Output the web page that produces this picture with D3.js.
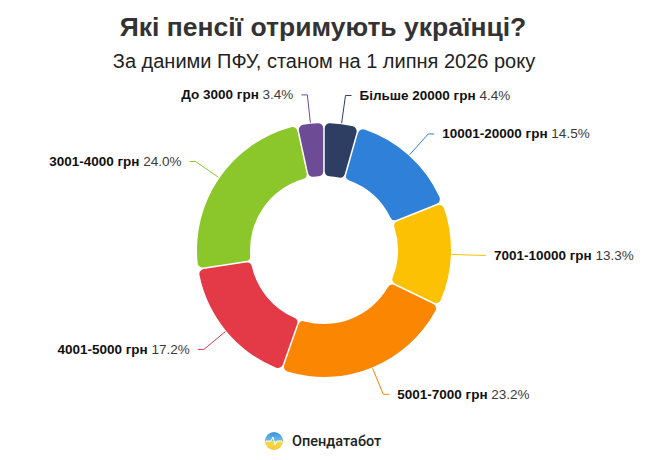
<!DOCTYPE html>
<html>
<head>
<meta charset="utf-8">
<script src="https://cdn.jsdelivr.net/npm/d3@7"></script>
<style>
  body { margin: 0; background: #fff; }
  svg { display: block; font-family: "Liberation Sans", Arial, sans-serif; }
</style>
</head>
<body>
<svg id="chart" width="671" height="460"></svg>
<script>
// data, clockwise from the top
const categories = ["Більше 20000 грн", "10001-20000 грн", "7001-10000 грн", "5001-7000 грн", "4001-5000 грн", "3001-4000 грн", "До 3000 грн"];
const shares = [4.4, 14.5, 13.3, 23.2, 17.2, 24.0, 3.4];
const colors = ["#2d3e62", "#2e80d9", "#fcc102", "#fb8602", "#e43a48", "#8bc62a", "#6d4c95"];

const width = 671, height = 460;
const cx = 324, cy = 250;
const outerR = 127, innerR = 74;

const svg = d3.select("#chart");

svg.append("text")
  .attr("x", 323).attr("y", 36)
  .attr("text-anchor", "middle")
  .style("font-size", "26.5px")
  .style("font-weight", "bold")
  .attr("fill", "#333")
  .text("Які пенсії отримують українці?");

svg.append("text")
  .attr("x", 324).attr("y", 68)
  .attr("text-anchor", "middle")
  .style("font-size", "20px")
  .attr("fill", "#222")
  .text("За даними ПФУ, станом на 1 липня 2026 року");

const pie = d3.pie().sort(null).value(d => d)(shares);

const arc = d3.arc()
  .innerRadius(innerR)
  .outerRadius(outerR)
  .cornerRadius(5)
  .padAngle(0.012)
  .padRadius(outerR);

const g = svg.append("g").attr("transform", `translate(${cx},${cy})`);

g.selectAll("path.slice")
  .data(pie)
  .join("path")
  .attr("class", "slice")
  .attr("d", arc)
  .attr("fill", (d, i) => colors[i]);

// labels with connectors
const labelDist = 29;
pie.forEach((d, i) => {
  const a = (d.startAngle + d.endAngle) / 2;
  const right = Math.sin(a) >= 0;
  const dir = right ? 1 : -1;
  const x0 = Math.sin(a) * (outerR + 1), y0 = -Math.cos(a) * (outerR + 1);
  const x1 = Math.sin(a) * (outerR + labelDist), y1 = -Math.cos(a) * (outerR + labelDist);
  const x2 = x1 + dir * 6;

  g.append("path")
    .attr("d", `M${x0},${y0}L${x1},${y1}L${x2},${y1}`)
    .attr("fill", "none")
    .attr("stroke", colors[i])
    .attr("stroke-width", 1);

  const t = g.append("text")
    .attr("x", x2 + dir * 8)
    .attr("y", y1 + 4.5)
    .attr("text-anchor", right ? "start" : "end")
    .style("font-size", "13.5px")
    .attr("fill", "#111");
  t.append("tspan").style("font-weight", "bold").text(categories[i] + " ");
  t.append("tspan").attr("fill", "#3a3a3a").text(d3.format(".1f")(shares[i]) + "%");
});

// brand
const logo = svg.append("g").attr("transform", "translate(274,441)");
const defs = svg.append("defs");
const grad = defs.append("linearGradient").attr("id", "logoGrad")
  .attr("x1", 0).attr("y1", 0).attr("x2", 0).attr("y2", 1);
grad.append("stop").attr("offset", "0%").attr("stop-color", "#3a8fe0");
grad.append("stop").attr("offset", "48%").attr("stop-color", "#6cbde8");
grad.append("stop").attr("offset", "52%").attr("stop-color", "#f7d94a");
grad.append("stop").attr("offset", "100%").attr("stop-color", "#f6c935");
logo.append("circle").attr("r", 9).attr("fill", "url(#logoGrad)");
logo.append("path")
  .attr("d", "M-8,0L-3,0L-1,-4L1,4L3,0L8,0")
  .attr("fill", "none").attr("stroke", "#fff").attr("stroke-width", 1);

svg.append("text")
  .attr("x", 292).attr("y", 446)
  .style("font-family", "Roboto, 'Liberation Sans', sans-serif")
  .style("font-size", "14.5px")
  .style("font-weight", 500)
  .attr("fill", "#222")
  .text("Опендатабот");
</script>
</body>
</html>
